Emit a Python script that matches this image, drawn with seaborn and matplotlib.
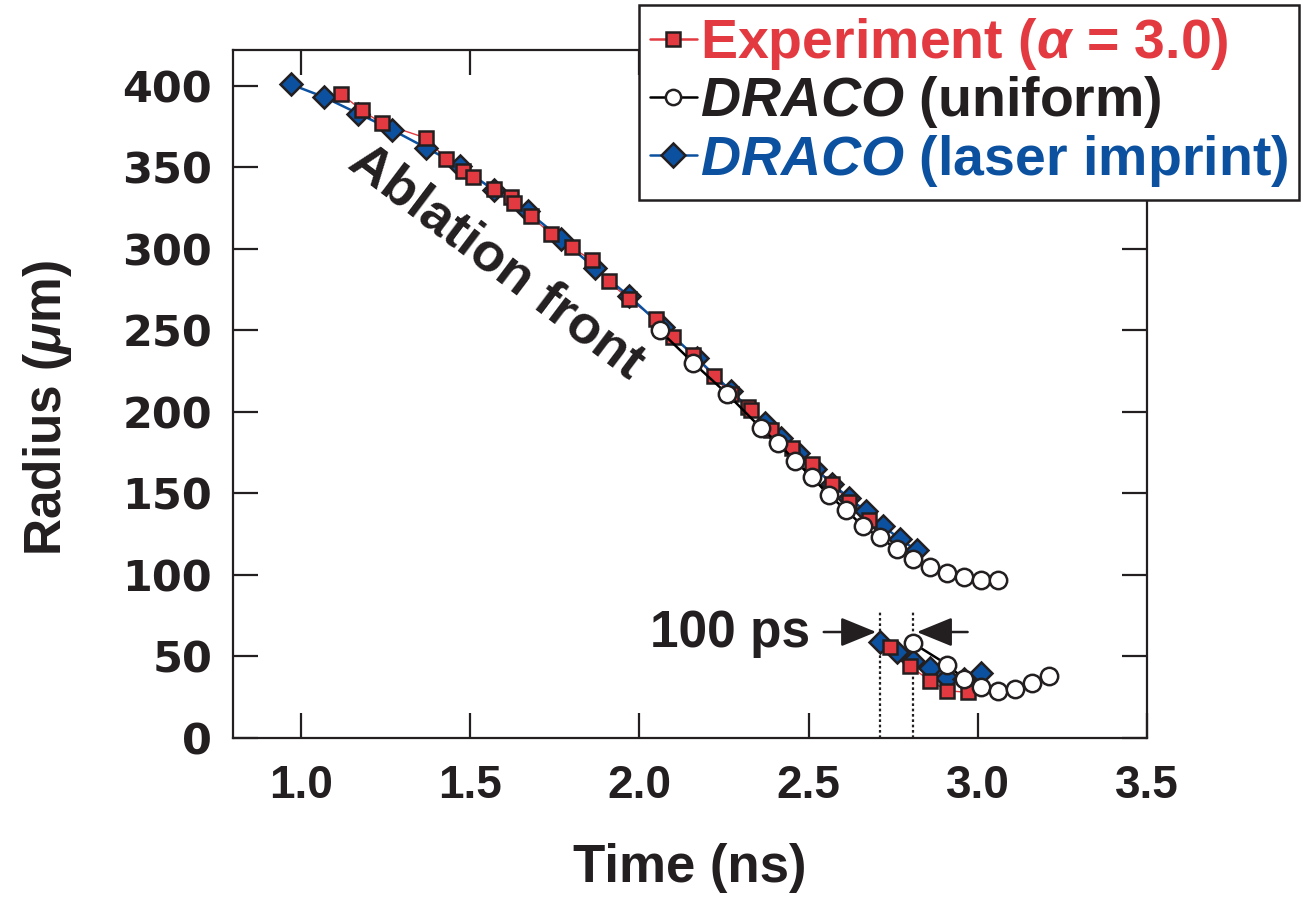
import matplotlib
matplotlib.use("Agg")
import matplotlib.pyplot as plt
from matplotlib.lines import Line2D
import seaborn as sns
import pandas as pd

# ---------------- data ----------------
t_exp_up = [1.12, 1.18, 1.24, 1.37, 1.43, 1.48, 1.51, 1.57, 1.62, 1.63, 1.68, 1.74, 1.80, 1.86,
            1.91, 1.97, 2.05, 2.10, 2.16, 2.22, 2.27, 2.32, 2.33, 2.39, 2.45, 2.51, 2.57, 2.62, 2.68]
r_exp_up = [395, 385, 377, 368, 355, 348, 344, 337, 332, 328, 320, 309, 301, 293,
            280, 269, 257, 246, 235, 222, 211, 203, 201, 189, 178, 168, 156, 145, 134]
t_exp_lo = [2.74, 2.80, 2.86, 2.91, 2.97]
r_exp_lo = [56, 44, 35, 29, 28]

t_uni_up = [2.06, 2.16, 2.26, 2.36, 2.41, 2.46, 2.51, 2.56, 2.61, 2.66, 2.71, 2.76, 2.81,
            2.86, 2.91, 2.96, 3.01, 3.06]
r_uni_up = [250, 230, 211, 190, 181, 170, 160, 149, 140, 130, 123, 116, 110,
            105, 101, 99, 97, 97]
t_uni_lo = [2.81, 2.91, 2.96, 3.01, 3.06, 3.11, 3.16, 3.21]
r_uni_lo = [58, 45, 36, 31, 29, 30, 34, 38]

t_las_up = [0.97, 1.07, 1.17, 1.27, 1.37, 1.47, 1.57, 1.67, 1.77, 1.87, 1.97, 2.07, 2.17,
            2.27, 2.37, 2.42, 2.47, 2.52, 2.57, 2.62, 2.67, 2.72, 2.77, 2.82]
r_las_up = [401, 393, 383, 373, 362, 351, 336, 323, 306, 288, 271, 252, 233,
            213, 193, 184, 175, 165, 156, 147, 139, 130, 122, 115]
t_las_lo = [2.71, 2.76, 2.81, 2.86, 2.91, 2.96, 3.01]
r_las_lo = [59, 53, 47, 43, 37, 36, 40]

x_ticks = [1.0, 1.5, 2.0, 2.5, 3.0, 3.5]
y_ticks = [0, 50, 100, 150, 200, 250, 300, 350, 400]
shift_times = [2.71, 2.81]
labels = ["Experiment ($\\alpha$ = 3.0)", "$DRACO$ (uniform)", "$DRACO$ (laser imprint)"]

RED = "#E23A40"
BLUE = "#0B51A0"
INK = "#231F20"

def frame(tu, ru, tl, rl):
    return pd.DataFrame({"t": list(tu) + list(tl), "r": list(ru) + list(rl),
                         "seg": ["up"] * len(tu) + ["lo"] * len(tl)})

df_exp = frame(t_exp_up, r_exp_up, t_exp_lo, r_exp_lo)
df_uni = frame(t_uni_up, r_uni_up, t_uni_lo, r_uni_lo)
df_las = frame(t_las_up, r_las_up, t_las_lo, r_las_lo)

# ---------------- style ----------------
sns.set_style("ticks")
plt.rcParams["font.family"] = ["Liberation Sans", "DejaVu Sans"]
plt.rcParams["font.weight"] = "bold"
plt.rcParams["mathtext.fontset"] = "custom"
plt.rcParams["mathtext.it"] = "Liberation Sans:bold:italic"
plt.rcParams["mathtext.rm"] = "Liberation Sans:bold"
plt.rcParams["mathtext.bf"] = "Liberation Sans:bold"

fig = plt.figure(figsize=(13.07, 8.99), dpi=100)
ax = fig.add_axes([0.1783, 0.1791, 0.6993, 0.7653])

common = dict(estimator=None, sort=False, units="seg", legend=False, ax=ax)
# experiment connecting line (thin, beneath the simulation lines)
sns.lineplot(data=df_exp, x="t", y="r", color=RED, lw=1.0, zorder=2, **common)
sns.lineplot(data=df_las, x="t", y="r", color=BLUE, lw=1.8, marker="D", markersize=11,
             markerfacecolor=BLUE, markeredgecolor=INK, markeredgewidth=1.8, zorder=3, **common)
sns.lineplot(data=df_exp, x="t", y="r", linestyle="none", marker="s", markersize=10.5,
             markerfacecolor=RED, markeredgecolor=INK, markeredgewidth=1.8, zorder=4, **common)
sns.lineplot(data=df_uni, x="t", y="r", color="black", lw=1.8, marker="o", markersize=12.5,
             markerfacecolor="white", markeredgecolor=INK, markeredgewidth=1.8, zorder=5, **common)

# dotted lines marking the 100 ps shift
for ts in shift_times:
    ax.plot([ts, ts], [0, 78], color=INK, ls=(0, (1.2, 1.2)), lw=1.6, zorder=2)

arrow_kw = dict(arrowstyle="-|>,head_length=1.1,head_width=0.45", color=INK, lw=1.8,
                shrinkA=0, shrinkB=0, mutation_scale=20)
ax.annotate("", xy=(shift_times[0] - 0.01, 65), xytext=(2.545, 65), arrowprops=arrow_kw)
ax.annotate("", xy=(shift_times[1] + 0.01, 65), xytext=(2.97, 65), arrowprops=arrow_kw)
ax.text(2.505, 64, "100 ps", fontsize=37, fontweight="bold", color=INK,
        ha="right", va="center")

ax.text(1.578, 292, "Ablation front", fontsize=39, fontweight="bold", color=INK,
        rotation=-37, rotation_mode="anchor", ha="center", va="center")

# axes
ax.set_xlim(0.8, 3.5)
ax.set_ylim(0, 422)
ax.set_xticks(x_ticks)
ax.set_xticklabels([f"{v:.1f}" for v in x_ticks])
ax.set_yticks(y_ticks)
ax.set_yticklabels([str(v) for v in y_ticks])
ax.tick_params(direction="in", length=18, width=1.6, top=True, right=True, colors=INK)
ax.tick_params(axis="x", pad=19, labelsize=33)
ax.tick_params(axis="y", pad=15, labelsize=31)
for lab in ax.get_xticklabels():
    lab.set_fontfamily("Liberation Sans")
    lab.set_fontweight("bold")
for lab in ax.get_yticklabels():
    lab.set_fontfamily("DejaVu Sans")
    lab.set_fontweight("bold")
for sp in ax.spines.values():
    sp.set_linewidth(1.6)
    sp.set_color(INK)

ax.set_xlabel("Time (ns)", fontsize=38, fontweight="bold", color=INK)
ax.set_ylabel("Radius ($\\mu$m)", fontsize=37, fontweight="bold", color=INK)
ax.xaxis.set_label_coords(0.5, -0.152)
ax.yaxis.set_label_coords(-0.174, 0.48)

# legend
handles = [
    Line2D([], [], color=RED, lw=1.8, marker="s", markersize=10.5, markerfacecolor=RED,
           markeredgecolor=INK, markeredgewidth=1.8),
    Line2D([], [], color="black", lw=1.8, marker="o", markersize=11, markerfacecolor="white",
           markeredgecolor=INK, markeredgewidth=1.8),
    Line2D([], [], color=BLUE, lw=1.8, marker="D", markersize=12, markerfacecolor=BLUE,
           markeredgecolor=INK, markeredgewidth=1.8),
]
leg = fig.legend(handles, labels, loc="upper right", bbox_to_anchor=(1299 / 1307, 1 - 5 / 899),
                 bbox_transform=fig.transFigure, fontsize=40, frameon=True, fancybox=False,
                 framealpha=1, borderpad=0.2, labelspacing=0.04, handlelength=0.85,
                 handletextpad=0.05, borderaxespad=0)
leg.get_frame().set_edgecolor(INK)
leg.get_frame().set_linewidth(1.8)
leg.get_frame().set_facecolor("white")
for txt, c in zip(leg.get_texts(), [RED, INK, BLUE]):
    txt.set_color(c)
    txt.set_fontweight("bold")

fig.savefig("out.png", dpi=100)
